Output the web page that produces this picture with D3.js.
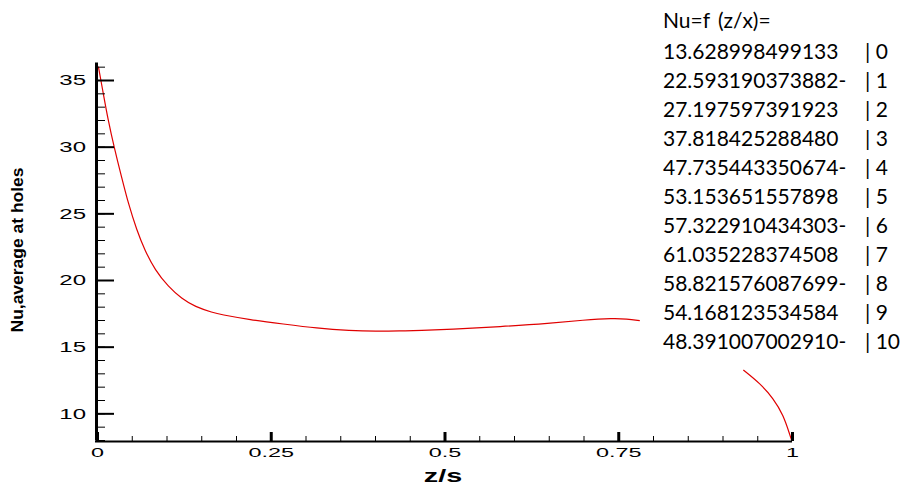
<!DOCTYPE html>
<html>
<head>
<meta charset="utf-8">
<script src="https://cdn.jsdelivr.net/npm/d3@7"></script>
<style>
  body { margin: 0; background: #fff; }
  svg { display: block; }
  .tick text { font-family: "Liberation Sans", Arial, sans-serif; fill: #000; }
</style>
</head>
<body>
<div id="chart"></div>
<script>
// visible part of the curve, left of the equation box
const zs1 = [0.002, 0.0076, 0.0163, 0.0249, 0.0355, 0.045, 0.0571, 0.069, 0.0835, 0.1026, 0.1219, 0.141, 0.1673,
             0.177, 0.22, 0.268, 0.316, 0.364, 0.402, 0.436, 0.465, 0.508, 0.58, 0.652, 0.7, 0.743, 0.762, 0.781];
const nu1 = [36.0, 34.4, 31.9, 29.9, 27.7, 25.75, 23.75, 22.2, 20.75, 19.5, 18.6, 18.0, 17.55,
             17.42, 17.02, 16.7, 16.38, 16.2, 16.15, 16.18, 16.22, 16.3, 16.5, 16.75, 17.0, 17.13, 17.08, 16.95];
// part below the box, near z/s = 1
const zs2 = [0.930, 0.954, 0.973, 0.9875, 0.997, 0.9993];
const nu2 = [13.25, 12.25, 11.13, 9.875, 8.375, 8.0];

const xMajor = [0, 0.25, 0.5, 0.75, 1];
const xMinor = d3.range(0, 21).map(i => i / 20);
const yMajor = [10, 15, 20, 25, 30, 35];
const yMinor = d3.range(8, 37);

const eqTitle = "Nu=f";
const eqSub = "(z/x)=";
const coefs = ["13.628998499133", "22.593190373882-", "27.197597391923", "37.818425288480",
               "47.735443350674-", "53.153651557898", "57.322910434303-", "61.035228374508",
               "58.821576087699-", "54.168123534584", "48.391007002910-"];
const powers = ["| 0", "| 1", "| 2", "| 3", "| 4", "| 5", "| 6", "| 7", "| 8", "| 9", "| 10"];

const width = 907, height = 486;
const svg = d3.select("#chart").append("svg").attr("width", width).attr("height", height);

const x = d3.scaleLinear().domain([0, 1]).range([97, 792]);
const y = d3.scaleLinear().domain([8, 36.35]).range([440, 62]);

// curve
const line = d3.line().x(d => x(d[0])).y(d => y(d[1])).curve(d3.curveBasis);
[[zs1, nu1], [zs2, nu2]].forEach(([xs, ys]) => {
  svg.append("path")
    .datum(xs.map((v, i) => [v, ys[i]]))
    .attr("d", line)
    .attr("fill", "none")
    .attr("stroke", "#e00000")
    .attr("stroke-width", 1.2);
});

// y axis minor + major ticks (pointing inside)
const yMin = svg.append("g").attr("transform", "translate(96,0)")
  .call(d3.axisLeft(y).tickValues(yMinor).tickSizeInner(-9).tickSizeOuter(0).tickFormat(""));
yMin.select(".domain").remove();
yMin.selectAll(".tick line").attr("stroke", "#000").attr("stroke-width", 1);

const yAx = svg.append("g").attr("transform", "translate(96,0)")
  .call(d3.axisLeft(y).tickValues(yMajor).tickSizeInner(-18).tickSizeOuter(0).tickPadding(10));
yAx.select(".domain").attr("stroke", "#000").attr("stroke-width", 3);
yAx.selectAll(".tick line").attr("stroke", "#000").attr("stroke-width", 2);
yAx.selectAll(".tick text")
  .attr("font-size", 15)
  .attr("x", -10 / 1.6)
  .attr("transform", "scale(1.6,1)");

// x axis minor + major ticks (pointing up)
const xMin = svg.append("g").attr("transform", "translate(0,441)")
  .call(d3.axisBottom(x).tickValues(xMinor).tickSizeInner(-5).tickSizeOuter(0).tickFormat(""));
xMin.select(".domain").remove();
xMin.selectAll(".tick line").attr("stroke", "#000").attr("stroke-width", 1);

const xAx = svg.append("g").attr("transform", "translate(0,441)")
  .call(d3.axisBottom(x).tickValues(xMajor).tickSizeInner(-9).tickSizeOuter(0).tickPadding(7)
    .tickFormat(d => d3.format("")(d)));
xAx.select(".domain").attr("stroke", "#000").attr("stroke-width", 2).attr("d", "M95,0.5H792");
xAx.selectAll(".tick line").attr("stroke", "#000").attr("stroke-width", 3);
xAx.selectAll(".tick text")
  .attr("font-size", 13)
  .attr("transform", "scale(1.8,1)");

// axis titles
svg.append("text")
  .attr("transform", "translate(443,482) scale(1.6,1)")
  .attr("text-anchor", "middle")
  .attr("font-family", "Liberation Sans, Arial, sans-serif")
  .attr("font-weight", "bold")
  .attr("font-size", 18)
  .text("z/s");

svg.append("text")
  .attr("transform", "translate(23,250) rotate(-90)")
  .attr("text-anchor", "middle")
  .attr("font-family", "Liberation Sans, Arial, sans-serif")
  .attr("font-weight", "bold")
  .attr("font-size", 17)
  .attr("textLength", 165)
  .attr("lengthAdjust", "spacingAndGlyphs")
  .text("Nu,average at holes");

// equation box
const eq = svg.append("g").style("font-family", "Lato, 'Open Sans', sans-serif").attr("fill", "#000");
eq.append("text").attr("x", 663).attr("y", 28).style("font-size", "21px").text(eqTitle);
eq.append("text").attr("x", 718).attr("y", 28).style("font-size", "21px").text(eqSub);

eq.selectAll("text.coef").data(coefs).join("text")
  .attr("class", "coef")
  .attr("x", 663)
  .attr("y", (d, i) => 59 + 29.03 * i)
  .style("font-size", "21px")
  .text(d => d);

eq.selectAll("text.pow").data(powers).join("text")
  .attr("class", "pow")
  .attr("x", 865)
  .attr("y", (d, i) => 59 + 29.03 * i)
  .style("font-size", "21px")
  .text(d => d);
</script>
</body>
</html>
